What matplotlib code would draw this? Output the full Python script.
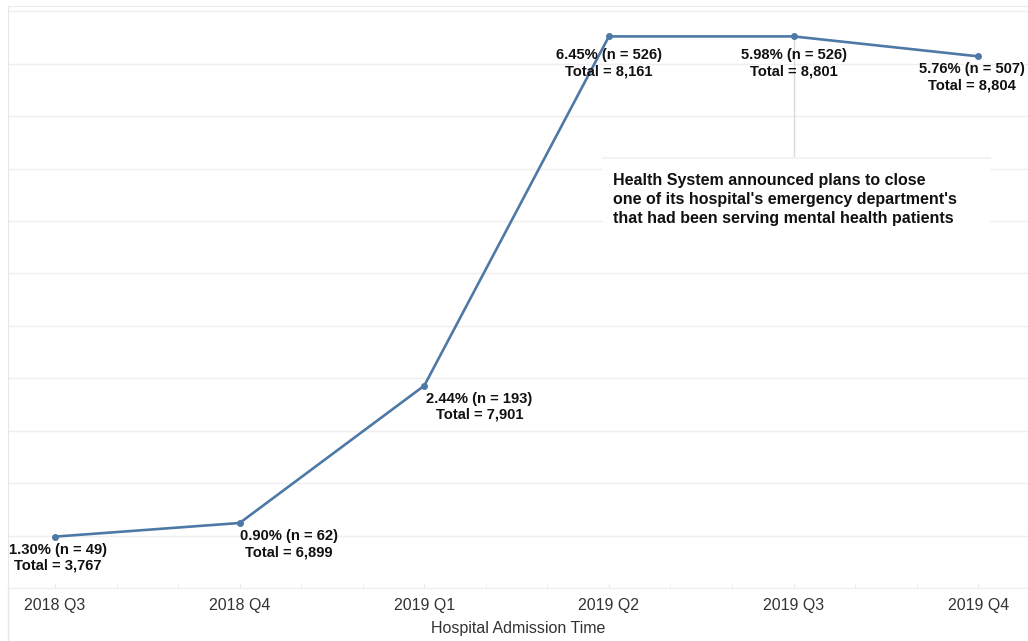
import numpy as np
import matplotlib.pyplot as plt
from matplotlib.patches import Rectangle
from matplotlib.lines import Line2D

# === DATA ===
quarters = ["2018 Q3", "2018 Q4", "2019 Q1", "2019 Q2", "2019 Q3", "2019 Q4"]
n_patients = [49, 62, 193, 526, 526, 507]
pct = ["1.30%", "0.90%", "2.44%", "6.45%", "5.98%", "5.76%"]
totals = ["3,767", "6,899", "7,901", "8,161", "8,801", "8,804"]
note = ("Health System announced plans to close\n"
        "one of its hospital's emergency department's\n"
        "that had been serving mental health patients")
note_idx = 4

# label offsets (pixels) relative to each point
label_dx = [3, 49, 55, 0, 0, -6]
label_dy = [-6, -6, -6, -12, -12, -6]

LINE_COLOR = "#4e79a7"
GRID_COLOR = "#efefef"
plt.rcParams["font.family"] = ["Liberation Sans", "DejaVu Sans"]

W, H = 1028, 641
fig = plt.figure(figsize=(W / 100, H / 100), dpi=100)
ax = fig.add_axes([8 / W, 1 - 588 / H, 1 - 8 / W, (588 - 6) / H])

x = np.arange(len(quarters))
ax.plot(x, n_patients, color=LINE_COLOR, lw=1.9, marker="o", ms=4, zorder=3)

for i in range(len(x)):
    ax.annotate(f"{pct[i]} (n = {n_patients[i]})\nTotal = {totals[i]}",
                xy=(x[i], n_patients[i]), xytext=(label_dx[i], label_dy[i]),
                textcoords="offset pixels", ha="center", va="top",
                multialignment="center", fontsize=10.6, fontweight="bold",
                color="#111111", linespacing=1.2, zorder=4)

# annotation: reference line + white note box
box_top, box_bottom = 410, 341
ax.plot([x[note_idx], x[note_idx]], [n_patients[note_idx], box_top],
        color="#d9d9d9", lw=1, zorder=2)
ax.add_patch(Rectangle((2.97, box_bottom), 5.065 - 2.97, box_top - box_bottom,
                       facecolor="white", edgecolor="none", zorder=2))
ax.plot([2.97, 5.065], [box_top, box_top], color="#f3f3f3", lw=1.5, zorder=2)
ax.text(3.023, 396, note, ha="left", va="top", fontsize=11.5,
        fontweight="bold", color="#111111", linespacing=1.33, zorder=4)

# axes styling
ax.set_xlim(-0.255, 5.27)
ax.set_ylim(0, 555)
ax.set_yticks(np.arange(0, 551, 50))
ax.yaxis.grid(True, color=GRID_COLOR, lw=1)
ax.set_axisbelow(True)
ax.tick_params(axis="y", left=False, labelleft=False)

ax.set_xticks(x)
ax.set_xticklabels(quarters, fontsize=11.5, color="#333333")
ax.set_xticks(np.arange(0, 5.01, 1 / 3), minor=True)
ax.tick_params(axis="x", which="both", direction="in", length=3,
               color="#e8e8e8", pad=7)
ax.set_xlabel("Hospital Admission Time", fontsize=11.5, color="#333333",
              labelpad=6)

ax.spines["right"].set_visible(False)
ax.spines["bottom"].set_color(GRID_COLOR)
ax.spines["left"].set_color("#e6e6e6")
ax.spines["top"].set_color("#ececec")

# left border continues down through the axis label area
fig.add_artist(Line2D([8 / W, 8 / W], [0, 1 - 588 / H], color="#e6e6e6", lw=1))

fig.savefig("out.png", dpi=100, facecolor="white")
